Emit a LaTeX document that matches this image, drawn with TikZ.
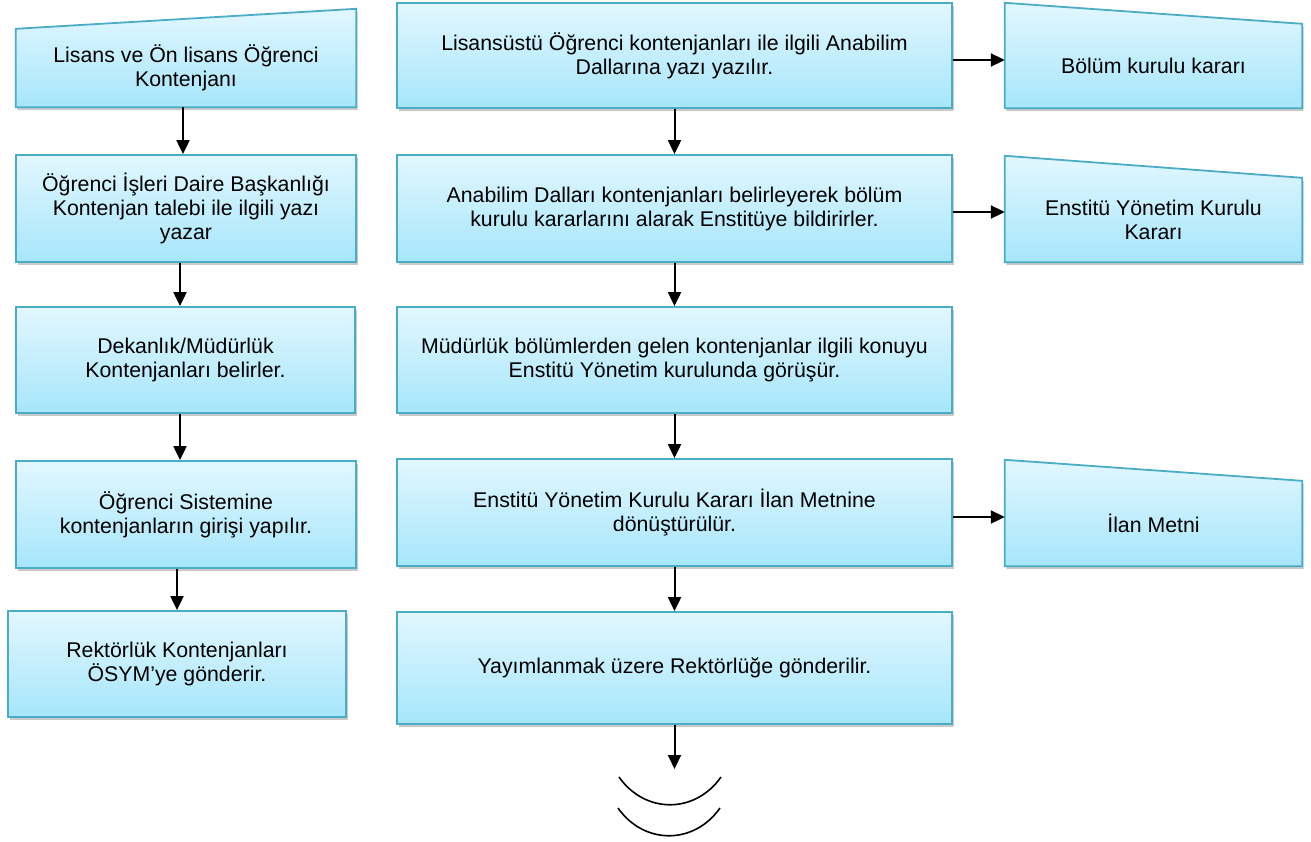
\documentclass[tikz,border=0pt]{standalone}
\usepackage{fontspec}
\setmainfont{Liberation Sans}
\usetikzlibrary{arrows.meta,shadows,backgrounds}
\definecolor{bordercol}{HTML}{4BACC6}
\definecolor{topfill}{HTML}{E2F7FF}
\definecolor{botfill}{HTML}{A6E6FB}
\tikzset{
  boxfill/.style={top color=topfill, bottom color=botfill, draw=bordercol, line width=1.8pt,
    drop shadow={shadow xshift=1.5pt, shadow yshift=-3pt, opacity=0.35, fill=black!60}},
  rectbox/.style={boxfill, rectangle, inner sep=0pt, align=center, font=\fontsize{21.3}{24}\selectfont},
  textbox/.style={rectangle, inner sep=0pt, align=center, font=\fontsize{21.3}{24}\selectfont},
  conn/.style={line width=2pt, -{Triangle[length=14pt,width=13pt]}},
}
\begin{document}
\begin{tikzpicture}[x=1pt,y=-1pt]
\useasboundingbox (0,0) rectangle (1311,841);
% left column
\node[textbox, minimum width=340pt, minimum height=78pt] (L1) at (186,68) {Lisans ve Ön lisans Öğrenci\\Kontenjanı};
\node[rectbox, minimum width=340pt, minimum height=107pt] (L2) at (186,208.5) {Öğrenci İşleri Daire Başkanlığı\\Kontenjan talebi ile ilgili yazı\\yazar};
\node[rectbox, minimum width=339pt, minimum height=106pt] (L3) at (185.5,360) {Dekanlık/Müdürlük\\Kontenjanları belirler.};
\node[rectbox, minimum width=340pt, minimum height=107pt] (L4) at (186,514.5) {Öğrenci Sistemine\\kontenjanların girişi yapılır.};
\node[rectbox, minimum width=338pt, minimum height=106pt] (L5) at (177,664) {Rektörlük Kontenjanları\\ÖSYM’ye gönderir.};
% middle column
\node[rectbox, minimum width=555pt, minimum height=105pt] (M1) at (674.5,55.5) {Lisansüstü Öğrenci kontenjanları ile ilgili Anabilim\\Dallarına yazı yazılır.};
\node[rectbox, minimum width=555pt, minimum height=107pt] (M2) at (674.5,208.5) {Anabilim Dalları kontenjanları belirleyerek bölüm\\kurulu kararlarını alarak Enstitüye bildirirler.};
\node[rectbox, minimum width=555pt, minimum height=106pt] (M3) at (674.5,360) {Müdürlük bölümlerden gelen kontenjanlar ilgili konuyu\\Enstitü Yönetim kurulunda görüşür.};
\node[rectbox, minimum width=555pt, minimum height=107pt] (M4) at (674.5,512.5) {Enstitü Yönetim Kurulu Kararı İlan Metnine\\dönüştürülür.};
\node[rectbox, minimum width=555pt, minimum height=112pt] (M5) at (674.5,668) {Yayımlanmak üzere Rektörlüğe gönderilir.};
% right column
\node[textbox, minimum width=297pt, minimum height=84pt] (R1) at (1153.5,66) {Bölüm kurulu kararı};
\node[textbox, minimum width=297pt, minimum height=84pt] (R2) at (1153.5,220) {Enstitü Yönetim Kurulu\\Kararı};
\node[textbox, minimum width=297pt, minimum height=85pt] (R3) at (1153.5,523.5) {İlan Metni};
% trapezoid shapes behind text
\begin{pgfonlayer}{background}
\path[boxfill] (L1.south west) -- (L1.north west) -- ([yshift=20pt]L1.north east) -- (L1.south east) -- cycle;
\path[boxfill] (R1.south west) -- ([yshift=21pt]R1.north west) -- (R1.north east) -- (R1.south east) -- cycle;
\path[boxfill] (R2.south west) -- ([yshift=22pt]R2.north west) -- (R2.north east) -- (R2.south east) -- cycle;
\path[boxfill] (R3.south west) -- ([yshift=21pt]R3.north west) -- (R3.north east) -- (R3.south east) -- cycle;
\end{pgfonlayer}
% connectors left
\draw[conn] ([xshift=-3pt]L1.south) -- ([xshift=-3pt]L1.south |- L2.north);
\draw[conn] ([xshift=-6pt]L2.south) -- ([xshift=-6pt]L2.south |- L3.north);
\draw[conn] ([xshift=-5.5pt]L3.south) -- ([xshift=-5.5pt]L3.south |- L4.north);
\draw[conn] ([xshift=-9pt]L4.south) -- ([xshift=-9pt]L4.south |- L5.north);
% connectors middle
\draw[conn] (M1.south) -- (M2.north);
\draw[conn] (M2.south) -- (M3.north);
\draw[conn] (M3.south) -- (M4.north);
\draw[conn] (M4.south) -- (M5.north);
\coordinate (end) at (674.5,769);
\draw[conn] (M5.south) -- (end);
% connectors right
\draw[conn] ([yshift=-4.5pt]M1.east) -- ([yshift=-4.5pt]M1.east -| R1.west);
\draw[conn] ([yshift=-3.5pt]M2.east) -- ([yshift=-3.5pt]M2.east -| R2.west);
\draw[conn] ([yshift=-4.5pt]M4.east) -- ([yshift=-4.5pt]M4.east -| R3.west);
% break arcs
\draw[line width=1.6pt] (619,777) .. controls (645,814) and (695,814) .. (721,777);
\draw[line width=1.6pt] (618,808) .. controls (644,845) and (694,845) .. (720,808);
\end{tikzpicture}
\end{document}
